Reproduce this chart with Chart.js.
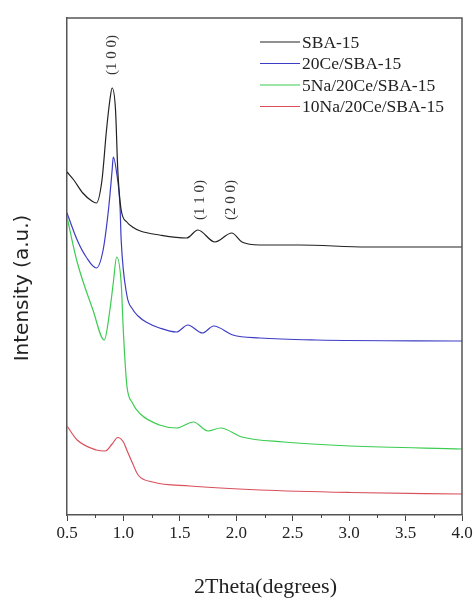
<!DOCTYPE html>
<html>
<head>
<meta charset="utf-8">
<script src="https://cdn.jsdelivr.net/npm/chart.js@4"></script>
<style>
  html, body { margin: 0; padding: 0; background: #fff; }
  #wrap { width: 476px; height: 598px; }
</style>
</head>
<body>
<div id="wrap"><canvas id="xrd"></canvas></div>
<script>
// small-angle XRD patterns, curves offset vertically (a.u.)
const sbaTheta = [0.50, 0.56, 0.64, 0.72, 0.76, 0.81, 0.85, 0.88, 0.90, 0.93, 0.95, 0.98, 1.03, 1.08, 1.15, 1.32, 1.56, 1.66, 1.81, 1.96, 2.05, 2.21, 2.56, 3.16, 4.00];
const sbaInt   = [343, 335, 322, 314, 312, 335, 385, 415, 427, 405, 345, 305, 293, 288, 284, 280, 277, 285, 273, 282, 273, 270, 270, 268, 268];

const ceTheta = [0.50, 0.59, 0.67, 0.76, 0.82, 0.87, 0.90, 0.91, 0.94, 0.97, 0.98, 1.03, 1.08, 1.13, 1.20, 1.32, 1.47, 1.57, 1.70, 1.80, 1.97, 2.21, 2.71, 4.00];
const ceInt   = [302, 275, 258, 247, 265, 308, 345, 358, 342, 308, 275, 220, 206, 199, 193, 187, 183, 190, 182, 189, 180, 177, 175, 174];

const na5Theta = [0.50, 0.59, 0.73, 0.83, 0.88, 0.91, 0.94, 0.98, 1.00, 1.03, 1.08, 1.15, 1.32, 1.47, 1.62, 1.75, 1.86, 2.05, 2.42, 3.01, 4.00];
const na5Int   = [298, 253, 205, 175, 205, 232, 258, 232, 182, 130, 112, 101, 90, 87, 93, 84, 87, 78, 73, 69, 66];

const na10Theta = [0.50, 0.59, 0.76, 0.84, 0.90, 0.95, 1.00, 1.03, 1.08, 1.13, 1.26, 1.59, 2.21, 3.01, 4.00];
const na10Int   = [89, 75, 65, 64, 71, 77.5, 73, 65, 52, 40, 33, 29, 25, 22.5, 21];

const seriesNames = ['SBA-15', '20Ce/SBA-15', '5Na/20Ce/SBA-15', '10Na/20Ce/SBA-15'];
const seriesColors = ['#222222', '#3c3cc4', '#3ccc50', '#d9505c'];

const majorTicks = [0.5, 1.0, 1.5, 2.0, 2.5, 3.0, 3.5, 4.0];
const minorTicks = [0.75, 1.25, 1.75, 2.25, 2.75, 3.25, 3.75];

// reflection indices written next to the SBA-15 peaks
const peakLabels = [
  { text: '(1 0 0)', theta: 0.90, at: 460 },
  { text: '(1 1 0)', theta: 1.68, at: 315 },
  { text: '(2 0 0)', theta: 1.95, at: 315 }
];

const serif = '"Liberation Serif", "Times New Roman", serif';

function pts(xs, ys) {
  return xs.map((x, i) => ({ x: x, y: ys[i] }));
}

const datasets = [
  pts(sbaTheta, sbaInt),
  pts(ceTheta, ceInt),
  pts(na5Theta, na5Int),
  pts(na10Theta, na10Int)
].map((d, i) => ({
  label: seriesNames[i],
  data: d,
  borderColor: seriesColors[i],
  borderWidth: 1.2,
  pointRadius: 0,
  fill: false,
  cubicInterpolationMode: 'monotone'
}));

const decor = {
  id: 'decor',
  afterDraw(chart) {
    const ctx = chart.ctx;
    const a = chart.chartArea;
    const xs = chart.scales.x;
    const ys = chart.scales.y;
    ctx.save();

    // top and right edges of the frame
    ctx.strokeStyle = '#555';
    ctx.lineWidth = 1.5;
    ctx.beginPath();
    ctx.moveTo(a.left, a.top);
    ctx.lineTo(a.right, a.top);
    ctx.lineTo(a.right, a.bottom);
    ctx.stroke();

    // minor ticks on the 2theta axis
    ctx.lineWidth = 1;
    ctx.strokeStyle = '#444';
    minorTicks.forEach(v => {
      const px = Math.round(xs.getPixelForValue(v)) + 0.5;
      ctx.beginPath();
      ctx.moveTo(px, a.bottom);
      ctx.lineTo(px, a.bottom + 3);
      ctx.stroke();
    });

    // legend
    ctx.font = '17.5px ' + serif;
    ctx.textBaseline = 'middle';
    ctx.textAlign = 'left';
    const rows = [42, 63.5, 85, 106.5];
    chart.data.datasets.forEach((ds, i) => {
      ctx.strokeStyle = ds.borderColor;
      ctx.lineWidth = 1.2;
      ctx.beginPath();
      ctx.moveTo(260, rows[i]);
      ctx.lineTo(300, rows[i]);
      ctx.stroke();
      ctx.fillStyle = '#222';
      ctx.fillText(ds.label, 302, rows[i] + 1);
    });

    // peak indices
    ctx.font = '15px ' + serif;
    ctx.fillStyle = '#333';
    ctx.textAlign = 'center';
    peakLabels.forEach(p => {
      ctx.save();
      ctx.translate(xs.getPixelForValue(p.theta), ys.getPixelForValue(p.at));
      ctx.rotate(-Math.PI / 2);
      ctx.fillText(p.text, 0, 0);
      ctx.restore();
    });

    // axis titles
    ctx.fillStyle = '#222';
    ctx.font = '22px ' + serif;
    ctx.textAlign = 'center';
    ctx.fillText('2Theta(degrees)', (a.left + a.right) / 2 + 1, 587);

    ctx.save();
    ctx.translate(23, 288);
    ctx.rotate(-Math.PI / 2);
    ctx.font = '20px "DejaVu Sans", sans-serif';
    ctx.fillText('Intensity (a.u.)', 0, 0);
    ctx.restore();

    ctx.restore();
  }
};

new Chart(document.getElementById('xrd'), {
  type: 'line',
  data: { datasets: datasets },
  options: {
    responsive: true,
    maintainAspectRatio: false,
    animation: false,
    layout: { padding: { top: 18, right: 14, left: 0, bottom: 0 } },
    plugins: {
      legend: { display: false },
      tooltip: { enabled: false }
    },
    scales: {
      x: {
        type: 'linear',
        min: 0.5,
        max: 4.0,
        afterFit: (s) => { s.height = 83; },
        afterBuildTicks: (s) => { s.ticks = majorTicks.map(v => ({ value: v })); },
        ticks: {
          color: '#222',
          font: { family: serif, size: 17 },
          padding: 2,
          maxRotation: 0,
          callback: (v) => v.toFixed(1)
        },
        grid: {
          display: true,
          drawOnChartArea: false,
          tickLength: 6,
          color: '#444'
        },
        border: { display: true, color: '#555', width: 1.5 }
      },
      y: {
        min: 0,
        max: 497,
        afterFit: (s) => { s.width = 67; },
        ticks: { display: false },
        grid: { display: false },
        border: { display: true, color: '#555', width: 1.5 }
      }
    }
  },
  plugins: [decor]
});
</script>
</body>
</html>
